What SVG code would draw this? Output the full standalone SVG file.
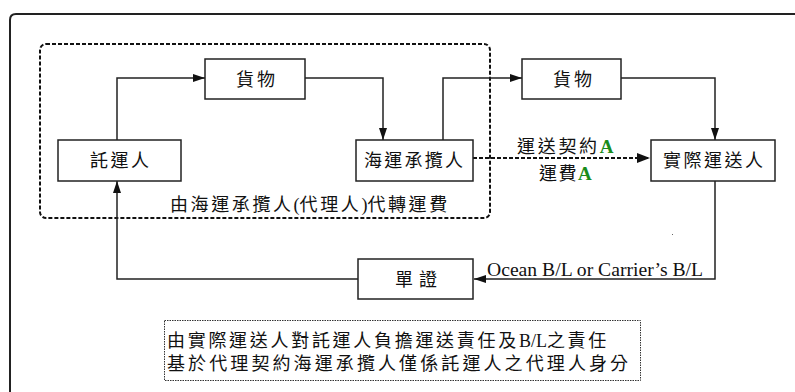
<svg xmlns="http://www.w3.org/2000/svg" width="795" height="392" viewBox="0 0 795 392">
<style>
.box{fill:#fff;stroke:#222;stroke-width:1.5}
.t{font-family:"Liberation Serif","Noto Sans CJK TC",serif;font-size:18px;fill:#111}
.lat{font-family:"Liberation Serif",serif;fill:#111}
.g{font-family:"Liberation Serif",serif;font-weight:bold;fill:#1a8c1a;font-size:19px}
.ln{fill:none;stroke:#222;stroke-width:1.5}
.dash{fill:none;stroke:#111;stroke-width:2;stroke-dasharray:4 2}
.dot{fill:none;stroke:#333;stroke-width:1;stroke-dasharray:1.5 1}
</style>
<defs>
<marker id="ah" viewBox="0 0 12 8" refX="12" refY="4" markerWidth="12" markerHeight="8" markerUnits="userSpaceOnUse" orient="auto">
<path d="M0,0 L12,4 L0,8 Z" fill="#111"/>
</marker>
</defs>
<rect width="795" height="392" fill="#fff"/>
<path d="M10,392 V20 Q10,14 16,14 H795" fill="none" stroke="#222" stroke-width="2"/>
<g id="agentGroup">
<rect x="40" y="44" width="450" height="174" rx="6" class="dash"/>
<text class="t" x="170" y="211" letter-spacing="2.6">由海運承攬人<tspan letter-spacing="0">(</tspan>代理人<tspan letter-spacing="0">)</tspan>代轉運費</text>
</g>
<g id="connectors">
<path class="ln" d="M117,140 V78 H205" marker-end="url(#ah)"/>
<path class="ln" d="M305,78 H383 V140" marker-end="url(#ah)"/>
<path class="ln" d="M443,140 V78 H522" marker-end="url(#ah)"/>
<path class="ln" d="M621,78 H715 V140" marker-end="url(#ah)"/>
<path class="dash" d="M473,158 H648"/>
<path d="M637,153 L650,158 L637,163 Z" fill="#111"/>
<path class="ln" d="M715,181 V279 H474" marker-end="url(#ah)"/>
<path class="ln" d="M358,279 H117 V181" marker-end="url(#ah)"/>
<text class="t" x="517" y="153" letter-spacing="2.7">運送契約<tspan class="g" letter-spacing="0">A</tspan></text>
<text class="t" x="539" y="180" letter-spacing="1.5">運費<tspan class="g" letter-spacing="0">A</tspan></text>
<text class="lat" x="487" y="276" font-size="19" textLength="216" lengthAdjust="spacingAndGlyphs">Ocean B/L or Carrier’s B/L</text>
<rect x="672" y="234" width="1" height="1" fill="#666"/>
</g>
<g id="shipper">
<rect class="box" x="58" y="140" width="123" height="41"/>
<text class="t" x="90" y="167" textLength="59" lengthAdjust="spacing">託運人</text>
</g>
<g id="goods1">
<rect class="box" x="205" y="59" width="100" height="40"/>
<text class="t" x="236" y="86" textLength="39" lengthAdjust="spacing">貨物</text>
</g>
<g id="forwarder">
<rect class="box" x="356" y="140" width="117" height="41"/>
<text class="t" x="364" y="167" textLength="99" lengthAdjust="spacing">海運承攬人</text>
</g>
<g id="goods2">
<rect class="box" x="522" y="59" width="99" height="40"/>
<text class="t" x="553" y="86" textLength="39" lengthAdjust="spacing">貨物</text>
</g>
<g id="carrier">
<rect class="box" x="651" y="140" width="124" height="41"/>
<text class="t" x="663" y="167" textLength="100" lengthAdjust="spacing">實際運送人</text>
</g>
<g id="document">
<rect class="box" x="358" y="259" width="115" height="40"/>
<text class="t" x="395" y="286" textLength="42" lengthAdjust="spacing">單證</text>
</g>
<g id="note">
<rect class="dot" x="164.5" y="320.5" width="476" height="60"/>
<text class="t" x="167" y="347" letter-spacing="2.7">由實際運送人對託運人負擔運送責任及<tspan letter-spacing="0">B/L</tspan>之責任</text>
<text class="t" x="167" y="370" letter-spacing="3.1">基於代理契約海運承攬人僅係託運人之代理人身分</text>
</g>
</svg>
